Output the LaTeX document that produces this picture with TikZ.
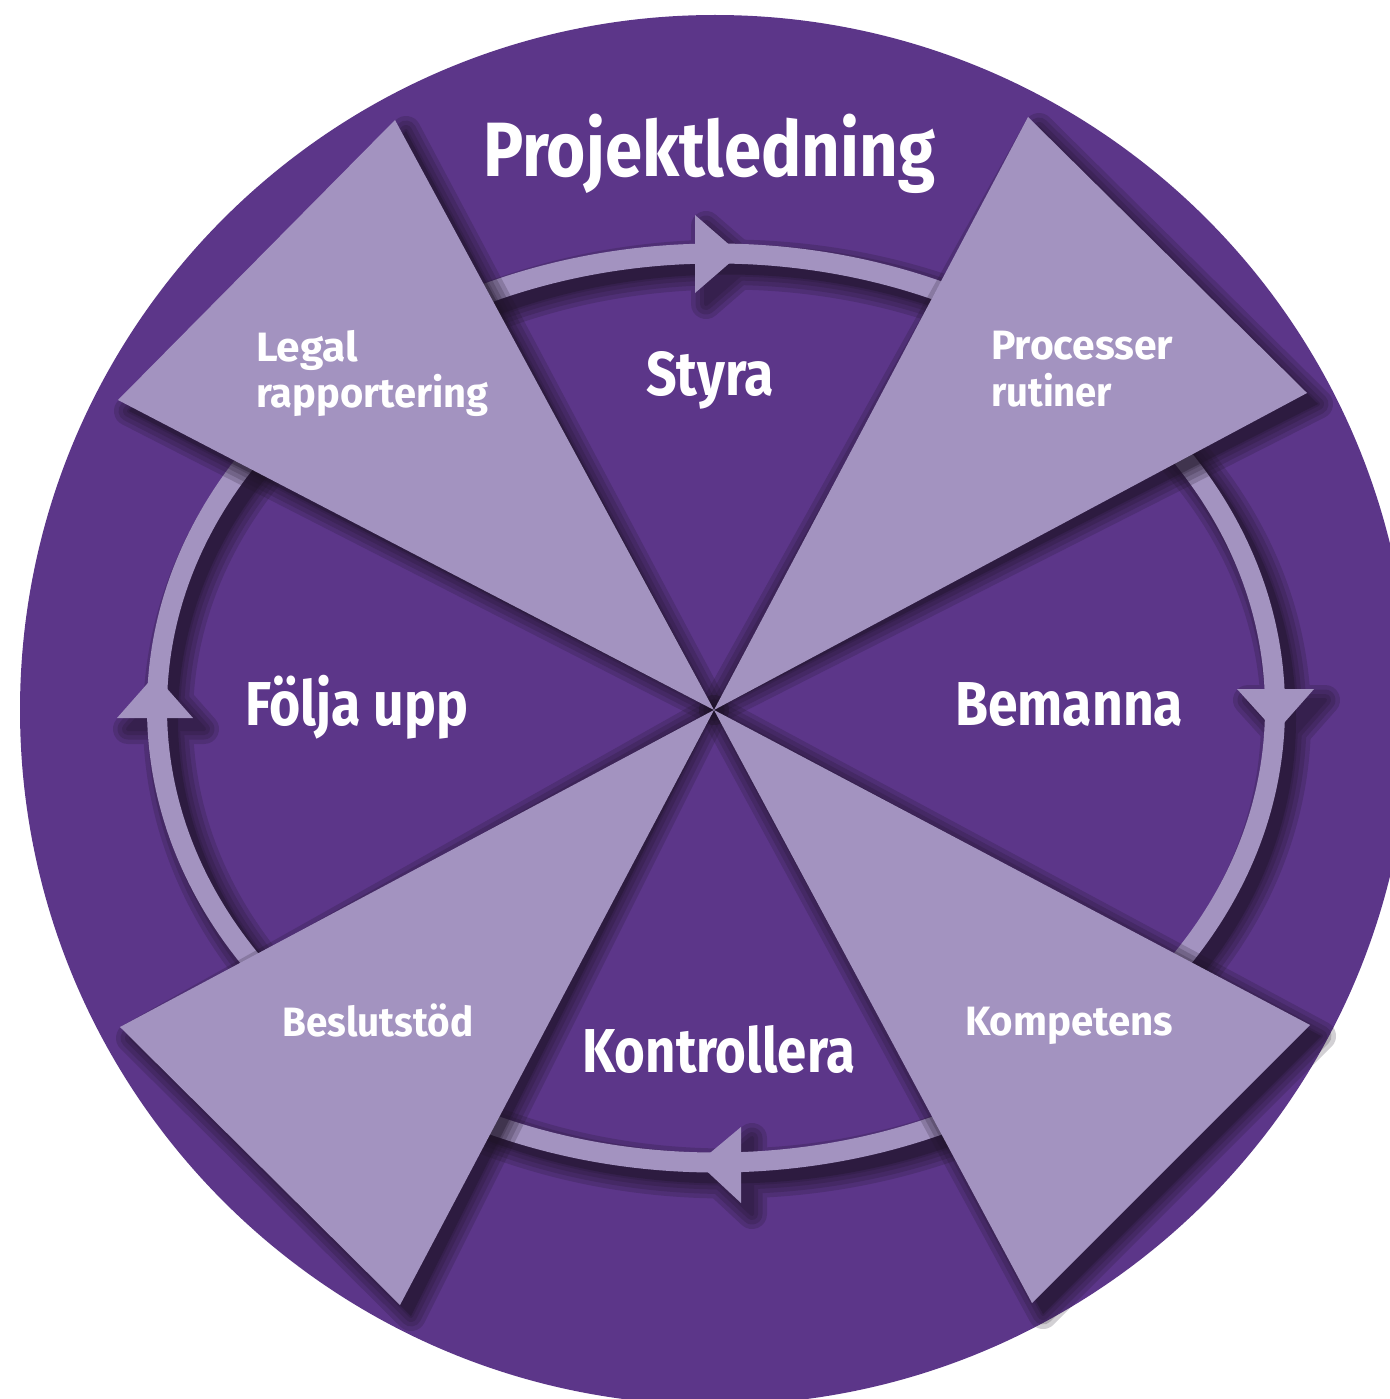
\documentclass[tikz,border=0pt]{standalone}
\usepackage{fontspec}
\setmainfont{Fira Sans}
\usepackage{graphicx}
\definecolor{bgp}{HTML}{5C3689}
\definecolor{lav}{HTML}{A393C0}
\definecolor{shd}{HTML}{1E1326}
\newcommand\fitw[2]{\resizebox{#1pt}{\height}{#2}}
\newcommand\softshadow[1]{%
  \foreach \w in {30,21,12,4}{%
    \begin{scope}[transparency group, opacity=0.2]
      \filldraw[shd, line width=\w pt, line join=round, shift={(11,11)}] #1;
    \end{scope}}%
  \begin{scope}[transparency group, opacity=0.35]
    \fill[shd, shift={(11,11)}] #1;
  \end{scope}}
\newcommand\ringshadow{%
  \foreach \w in {30,21,12,4}{%
    \begin{scope}[transparency group, opacity=0.2, shift={(11,11)}]
      \draw[shd, line width=20pt+\w pt] (716,708) ellipse [x radius=559, y radius=454.5];
      \filldraw[shd, line width=\w pt, line join=round] (695,215) -- (740,254) -- (695,293) -- cycle
        (1237,689) -- (1276,732) -- (1314,689) -- cycle
        (117,718) -- (155,675) -- (193,718) -- cycle
        (741,1127) -- (698,1163) -- (741,1203) -- cycle;
    \end{scope}}%
  \begin{scope}[transparency group, opacity=0.35, shift={(11,11)}]
    \draw[shd, line width=20pt] (716,708) ellipse [x radius=559, y radius=454.5];
  \end{scope}}
\tikzset{
  lbl/.style={text=white, inner sep=0pt, font=\bfseries},
  wedge/.style={fill=lav},
  ring/.style={draw=lav, line width=20pt},
  ahead/.style={fill=lav}
}
\begin{document}
\begin{tikzpicture}[x=1pt,y=-1pt]
\useasboundingbox (0,0) rectangle (1389,1399);
\coordinate (c) at (714,710);
% background disc
\fill[bgp] (715,710) circle [radius=695];
% ring with arrowheads
\ringshadow
\draw[ring] (716,708) ellipse [x radius=559, y radius=454.5];
\fill[ahead] (695,215) -- (740,254) -- (695,293) -- cycle;
\fill[ahead] (1237,689) -- (1276,732) -- (1314,689) -- cycle;
\fill[ahead] (117,718) -- (155,675) -- (193,718) -- cycle;
\fill[ahead] (741,1127) -- (698,1163) -- (741,1203) -- cycle;
% wedge shadows
\softshadow{(c) -- (395,120) -- (118,400) -- cycle}
\softshadow{(c) -- (1028,117) -- (1307,393) -- cycle}
\softshadow{(c) -- (120,1027) -- (400,1305) -- cycle}
\softshadow{(c) -- (1310,1025) -- (1032,1303) -- cycle}
% wedges
\fill[wedge] (c) -- (395,120) -- (118,400) -- cycle;
\fill[wedge] (c) -- (1028,117) -- (1307,393) -- cycle;
\fill[wedge] (c) -- (120,1027) -- (400,1305) -- cycle;
\fill[wedge] (c) -- (1310,1025) -- (1032,1303) -- cycle;
% texts
\node[lbl, anchor=base] (title) at (709,177) {\fontsize{77}{77}\selectfont\fitw{452}{Projektledning}};
\node[lbl, anchor=base] (styra) at (710,395) {\fontsize{62}{62}\selectfont\fitw{128}{Styra}};
\node[lbl, anchor=base west] (legal1) at (256,361) {\fontsize{41}{41}\selectfont\fitw{102}{Legal}};
\node[lbl, anchor=base west] (legal2) at (256,407) {\fontsize{41}{41}\selectfont\fitw{232}{rapportering}};
\node[lbl, anchor=base west] (proc1) at (991,359) {\fontsize{41}{41}\selectfont\fitw{182}{Processer}};
\node[lbl, anchor=base west] (proc2) at (991,406) {\fontsize{41}{41}\selectfont\fitw{121}{rutiner}};
\node[lbl, anchor=base west] (folja) at (245,725) {\fontsize{62}{62}\selectfont\fitw{223}{Följa upp}};
\node[lbl, anchor=base west] (beman) at (955,725) {\fontsize{62}{62}\selectfont\fitw{228}{Bemanna}};
\node[lbl, anchor=base west] (beslut) at (282,1036) {\fontsize{41}{41}\selectfont\fitw{191}{Beslutstöd}};
\node[lbl, anchor=base west] (kontr) at (582,1072) {\fontsize{62}{62}\selectfont\fitw{273}{Kontrollera}};
\node[lbl, anchor=base west] (komp) at (965,1035) {\fontsize{41}{41}\selectfont\fitw{208}{Kompetens}};
\end{tikzpicture}
\end{document}
